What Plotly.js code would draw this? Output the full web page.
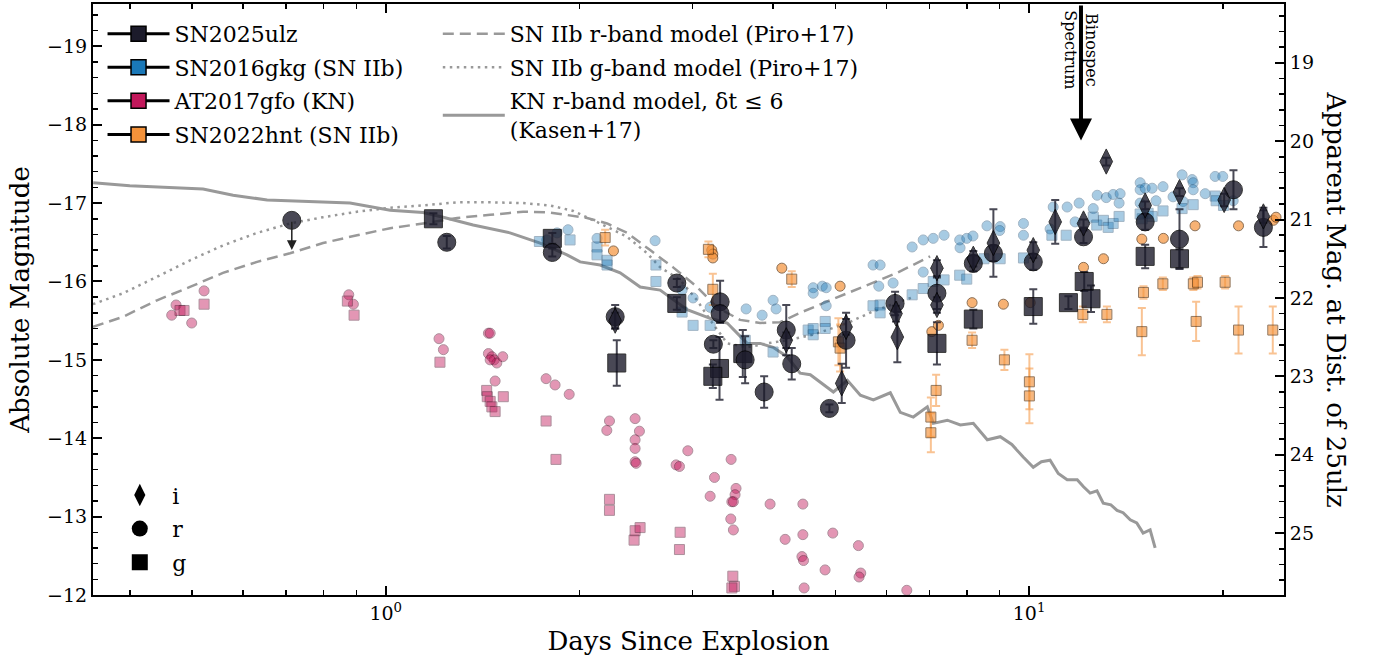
<!DOCTYPE html>
<html><head><meta charset="utf-8">
<script src="https://cdn.plot.ly/plotly-3.0.1.min.js"></script>
<style>html,body{margin:0;padding:0;background:#fff}#chart{width:1377px;height:656px}</style>
</head><body><div id="chart"></div>
<script>
// ---------------- data ----------------
// Models
const knDays = [0.351,0.400,0.520,0.579,0.654,0.710,0.880,1.016,1.143,1.228,1.367,1.560,1.738,1.913,2.005,2.154,2.314,2.486,2.670,2.941,3.193,3.394,3.518,3.646,3.819,4.000,4.206,4.406,4.570,4.858,4.963,5.218,5.466,5.727,6.085,6.306,6.607,6.947,7.098,7.463,7.818,8.190,8.610,9.020,9.400,9.790,10.15,10.45,10.78,11.10,11.46,11.88,12.15,12.44,12.75,13.04,13.40,13.70,14.00,14.36,14.70,15.04,15.42,15.70];
const knMag  = [-17.26,-17.22,-17.18,-17.10,-17.04,-17.03,-17.00,-16.91,-16.88,-16.82,-16.72,-16.62,-16.49,-16.34,-16.25,-16.21,-16.11,-15.93,-15.89,-15.64,-15.53,-15.47,-15.34,-15.21,-15.21,-15.16,-15.04,-14.83,-14.81,-14.65,-14.59,-14.74,-14.55,-14.49,-14.58,-14.33,-14.27,-14.40,-14.19,-14.23,-14.17,-14.19,-13.98,-14.02,-13.92,-13.76,-13.63,-13.70,-13.72,-13.55,-13.47,-13.47,-13.38,-13.30,-13.33,-13.17,-13.15,-13.08,-13.05,-12.96,-12.92,-12.79,-12.83,-12.60];

const piroRDays = [0.3507,0.3906,0.441,0.4963,0.5584,0.631,0.710,0.799,0.9024,1.016,1.143,1.291,1.453,1.635,1.80,2.056,2.208,2.372,2.576,2.797,3.047,3.273,3.554,3.818,4.101,4.406,4.906,5.521,6.234,7.017];
const piroRMag  = [-15.42,-15.55,-15.76,-15.93,-16.11,-16.25,-16.36,-16.49,-16.59,-16.68,-16.74,-16.81,-16.85,-16.89,-16.88,-16.81,-16.74,-16.62,-16.40,-16.18,-15.93,-15.67,-15.51,-15.47,-15.48,-15.60,-15.76,-15.93,-16.11,-16.32];

const piroGDays = [0.3507,0.3906,0.441,0.4963,0.5584,0.631,0.710,0.799,0.9024,1.016,1.143,1.291,1.453,1.635,1.80,1.956,2.154,2.372,2.548,2.670,2.868,3.047,3.193,3.309,3.394,3.646,3.915,4.206,4.616,5.218,5.727,6.19,6.65];
const piroGMag  = [-15.71,-15.85,-16.06,-16.27,-16.46,-16.62,-16.74,-16.82,-16.89,-16.94,-16.97,-17.01,-17.01,-17.00,-16.97,-16.90,-16.74,-16.57,-16.36,-16.18,-16.02,-15.76,-15.51,-15.34,-15.21,-15.16,-15.21,-15.25,-15.32,-15.47,-15.62,-15.72,-15.81];

// SN2025ulz
const ulzGDays = [1.186,1.815,2.286,2.834,3.302,3.224,3.589,7.19,8.19,10.15,11.51,12.18,12.48,15.15,17.13];
const ulzGMag  = [-16.80,-16.55,-14.96,-15.72,-14.89,-14.79,-15.08,-15.21,-15.52,-15.68,-15.73,-16.00,-15.78,-16.32,-16.29];
const ulzGErr  = [0.07,0.07,0.29,0.08,0.40,0.15,0.30,0.27,0.12,0.22,0.08,0.12,0.17,0.15,0.12];

const ulzRDays = [1.244,1.815,2.273,2.834,3.309,3.309,3.23,3.619,3.874,4.193,4.276,4.893,5.194,6.19,7.19,8.19,8.80,10.15,12.15,15.15,17.13,20.78,23.13];
const ulzRMag  = [-16.50,-16.37,-15.55,-15.98,-15.74,-15.59,-15.20,-15.00,-14.59,-15.38,-14.95,-14.38,-15.25,-15.72,-15.85,-16.23,-16.36,-16.25,-16.57,-16.76,-16.54,-17.17,-16.69];
const ulzRErr  = [0.08,0.05,0.15,0.05,0.27,0.10,0.05,0.30,0.20,0.32,0.20,0.05,0.35,0.15,0.20,0.10,0.10,0.10,0.08,0.10,0.38,0.25,0.25];

const ulzIDays = [2.273,4.193,5.114,5.194,6.21,6.24,7.19,7.19,8.19,8.80,10.15,10.98,12.15,13.18,15.15,17.13,20.10,23.13];
const ulzIMag  = [-15.50,-15.25,-14.70,-15.42,-15.59,-15.29,-16.17,-15.70,-16.29,-16.49,-16.40,-16.76,-16.74,-17.53,-16.97,-17.14,-17.04,-16.83];
const ulzIErr  = [0.10,0.10,0.25,0.10,0.10,0.32,0.10,0.10,0.10,0.43,0.10,0.28,0.05,0.05,0.05,0.05,0.08,0.08];

const ulzLimDay = 0.7144, ulzLimMag = -16.78, ulzLimTip = -16.40;

// SN2016gkg
const gkgRDays = [1.779,1.846,1.920,2.130,2.622,2.888,3.004,3.193,3.632,3.846,4.000,4.043,4.617,4.617,4.77,4.837,4.837,5.721,5.867,5.839,6.146,6.58,6.845,6.845,7.095,7.376,7.81,7.80,8.0,8.18,8.60,9.015,9.0,9.80,9.80,10.78,10.90,11.46,11.79,11.96,12.58,12.76,13.18,13.51,13.85,13.80,14.88,14.88,15.15,15.53,16.15,15.75,14.88,16.74,17.29,17.35,17.92,17.99,17.99,18.78,19.46,20.0,20.76];
const gkgRMag  = [-16.53,-16.62,-16.66,-16.55,-16.52,-15.89,-15.79,-15.67,-15.65,-15.57,-15.76,-15.65,-15.92,-15.85,-15.94,-15.92,-15.69,-16.21,-16.21,-15.94,-15.98,-16.44,-16.53,-16.12,-16.55,-16.59,-16.43,-16.53,-16.55,-16.58,-16.71,-16.70,-16.65,-16.74,-16.59,-16.67,-16.95,-16.95,-16.76,-17.00,-16.93,-17.10,-17.07,-17.11,-17.12,-17.00,-17.26,-17.17,-17.19,-17.19,-17.21,-17.03,-17.00,-17.08,-17.36,-17.02,-17.30,-17.26,-17.17,-17.12,-17.34,-17.34,-17.03];

const gkgGDays = [1.733,1.934,2.130,2.130,2.208,2.208,2.630,2.630,2.888,3.004,3.193,3.620,4.000,4.535,4.617,4.617,4.820,4.820,5.720,5.867,5.867,6.580,6.845,7.095,7.376,7.800,8.000,8.510,9.015,9.800,10.85,11.42,12.58,12.74,13.05,13.27,13.51,13.80,14.88,14.99,15.31,15.53,16.15,17.29,17.99,19.46,19.53,20.05];
const gkgGMag  = [-16.51,-16.53,-16.44,-16.34,-16.27,-16.21,-16.21,-16.00,-15.61,-15.44,-15.44,-15.25,-15.10,-15.38,-15.40,-15.32,-15.49,-15.40,-15.69,-15.70,-15.60,-15.83,-15.91,-16.00,-16.02,-16.08,-16.03,-16.29,-16.29,-16.30,-16.59,-16.59,-16.82,-16.72,-16.78,-16.69,-16.74,-16.83,-16.86,-16.80,-16.87,-16.83,-16.90,-16.93,-16.98,-17.09,-17.03,-16.97];

// AT2017gfo
const gfoRDays = [0.4721,0.4648,0.4993,0.5219,0.876,0.8905,1.210,1.229,1.444,1.453,1.444,1.462,1.474,1.488,1.520,1.453,1.479,1.775,1.833,1.928,2.227,2.206,2.441,2.479,2.441,2.441,2.441,2.45,2.827,2.861,2.948,3.442,3.243,3.193,3.503,3.491,3.451,3.47,3.438,3.47,3.957,4.45,4.176,4.45,4.953,4.435,4.46,4.818,5.428,5.474,5.441,4.47,6.455];
const gfoRMag  = [-15.70,-15.57,-15.47,-15.88,-15.83,-15.71,-15.27,-15.13,-15.34,-15.34,-15.08,-15.04,-15.00,-14.96,-15.04,-15.00,-14.73,-14.76,-14.68,-14.56,-14.22,-14.10,-14.25,-14.09,-13.98,-13.87,-13.70,-13.68,-13.66,-13.64,-13.84,-13.73,-13.50,-13.26,-13.36,-13.28,-13.19,-13.19,-12.97,-12.83,-13.16,-13.16,-12.71,-12.77,-12.79,-12.49,-12.44,-12.32,-12.63,-12.28,-12.23,-12.09,-12.06];

const gfoGDays = [0.4788,0.4858,0.5219,0.8716,0.8928,1.214,1.435,1.438,1.453,1.462,1.479,1.523,1.775,1.839,2.227,2.227,2.441,2.485,2.432,2.868,2.861,3.463,3.483,3.451];
const gfoGMag  = [-15.63,-15.63,-15.71,-15.75,-15.57,-14.97,-14.61,-14.53,-14.47,-14.40,-14.34,-14.53,-14.22,-13.73,-13.22,-13.08,-12.82,-12.86,-12.70,-12.80,-12.58,-12.24,-12.11,-12.09];

// SN2022hnt
const hntRDays = [2.259,3.212,3.224,3.224,4.127,5.084,7.06,7.228,8.154,9.12,10.04,12.15,13.05,14.97,16.17,18.11,21.16,23.97,24.2];
const hntRMag  = [-16.39,-16.40,-16.35,-16.30,-16.17,-15.94,-15.36,-15.44,-15.73,-15.71,-15.73,-16.18,-16.29,-16.54,-16.55,-16.71,-16.71,-16.78,-16.82];

const hntGDays = [2.193,3.173,3.224,4.276,5.053,5.084,7.169,7.035,7.035,8.154,9.154,10.01,10.01,12.12,13.21,14.97,15.06,16.14,18.00,18.27,18.18,20.17,21.16,23.92];
const hntGMag  = [-16.56,-16.41,-15.90,-16.03,-15.23,-15.15,-14.61,-14.27,-14.07,-15.25,-15.00,-14.72,-14.54,-15.58,-15.58,-15.36,-15.86,-15.97,-15.97,-15.99,-15.49,-15.99,-15.38,-15.38];
const hntGErr  = [0.10,0.10,0.20,0.10,0.30,0.30,0.20,0.25,0.25,0.10,0.13,0.35,0.35,0.10,0.10,0.30,0.08,0.08,0.08,0.08,0.25,0.08,0.30,0.30];

// Annotation values
const binoDay = 12.04, binoTip = -17.80;
const distMod = 37.79;
const yBottom = -12, yTop = -19.54;

// ---------------- styling ----------------
const FONT = 'DejaVu Serif';
const cUlz = '#1c1b2b', cGkg = '#1a78b8', cGfo = '#c2185b', cHnt = '#f4923a';

function pts(x, y, sym, color, size, opac, lineColor, err, errColor){
  const t = {x:x, y:y, type:'scatter', mode:'markers', showlegend:false, hoverinfo:'skip',
    marker:{symbol:sym, color:color, size:size, opacity:opac, line:{color:lineColor, width:1}}};
  if (err) t.error_y = {type:'data', array:err, visible:true, color:errColor, thickness:2, width:4};
  return t;
}

const traces = [];
// models
traces.push({x:piroRDays, y:piroRMag, type:'scatter', mode:'lines', name:'SN IIb r-band model (Piro+17)',
  line:{color:'#999999', width:2.5, dash:'11px,6px'}, legend:'legend2', legendgroup:'m1', hoverinfo:'skip'});
traces.push({x:piroGDays, y:piroGMag, type:'scatter', mode:'lines', name:'SN IIb g-band model (Piro+17)',
  line:{color:'#999999', width:2.5, dash:'2.5px,4.5px'}, legend:'legend2', legendgroup:'m2', hoverinfo:'skip'});
traces.push({x:knDays, y:knMag, type:'scatter', mode:'lines', name:'KN r-band model, δt ≤ 6<br>(Kasen+17)',
  line:{color:'#999999', width:3}, legend:'legend2', legendgroup:'m3', hoverinfo:'skip'});

// comparison objects
traces.push(pts(gfoRDays, gfoRMag, 'circle', cGfo, 10, 0.45, '#4a0a25'));
traces.push(pts(gfoGDays, gfoGMag, 'square', cGfo, 10, 0.45, '#4a0a25'));
traces.push(pts(gkgRDays, gkgRMag, 'circle', cGkg, 10, 0.38, '#0b3d66'));
traces.push(pts(gkgGDays, gkgGMag, 'square', cGkg, 10, 0.38, '#0b3d66'));
traces.push(pts(hntRDays, hntRMag, 'circle', cHnt, 10, 0.7, '#5a3410'));
traces.push(pts(hntGDays, hntGMag, 'square', cHnt, 10, 0.65, '#5a3410', hntGErr, 'rgba(244,146,58,0.55)'));

// SN2025ulz
traces.push(pts(ulzGDays, ulzGMag, 'square', cUlz, 18, 0.8, '#000000', ulzGErr, 'rgba(28,27,43,0.8)'));
traces.push(pts(ulzRDays, ulzRMag, 'circle', cUlz, 18, 0.8, '#000000', ulzRErr, 'rgba(28,27,43,0.8)'));
traces.push(pts(ulzIDays, ulzIMag, 'diamond-tall', cUlz, 18, 0.8, '#000000', ulzIErr, 'rgba(28,27,43,0.8)'));
traces.push(pts([ulzLimDay], [ulzLimMag], 'circle', cUlz, 18, 0.8, '#000000'));

// legend entries (objects)
const objNames = ['SN2025ulz','SN2016gkg (SN IIb)','AT2017gfo (KN)','SN2022hnt (SN IIb)'];
const objColors = [cUlz, cGkg, cGfo, cHnt];
objNames.forEach((n,i)=>{
  traces.push({x:[null], y:[null], type:'scatter', mode:'lines+markers', name:n, legend:'legend', legendgroup:'o'+i,
    line:{color:'black', width:3}, marker:{symbol:'square', size:15, color:objColors[i], line:{color:'black', width:1.5}}});
});
// legend entries (bands)
const bandNames = ['i','r','g'];
const bandSyms = ['diamond-tall','circle','square'];
bandNames.forEach((n,i)=>{
  traces.push({x:[null], y:[null], type:'scatter', mode:'markers', name:n, legend:'legend3', legendgroup:'b'+i,
    marker:{symbol:bandSyms[i], size:16, color:'black'}});
});
// dummy for right axis
traces.push({x:[null], y:[null], yaxis:'y2', type:'scatter', mode:'markers', showlegend:false, hoverinfo:'skip'});

const axisCommon = {showgrid:false, zeroline:false, showline:true, linecolor:'black', linewidth:2,
  ticks:'inside', ticklen:9, tickwidth:2, tickcolor:'black', tickfont:{family:FONT, size:19, color:'black'}};

const legendCommon = {bgcolor:'rgba(0,0,0,0)', font:{family:FONT, size:22, color:'black'}, tracegroupgap:2,
  xanchor:'left', itemwidth:62};

const layout = {
  width:1377, height:656,
  margin:{l:93, r:93, t:4, b:61},
  paper_bgcolor:'white', plot_bgcolor:'white',
  font:{family:FONT, color:'black'},
  xaxis: Object.assign({}, axisCommon, {
    type:'log', range:[Math.log10(0.3507), Math.log10(24.9)],
    tickvals:[1,10], ticktext:['10<sup>0</sup>','10<sup>1</sup>'], mirror:'ticks',
    minor:{dtick:'D1', ticks:'inside', ticklen:5, tickwidth:1.5, tickcolor:'black'},
    title:{text:'Days Since Explosion', font:{family:FONT, size:26}, standoff:10}
  }),
  yaxis: Object.assign({}, axisCommon, {
    range:[yBottom, yTop], tickvals:[-19,-18,-17,-16,-15,-14,-13,-12],
    minor:{dtick:0.2, tick0:0, ticks:'inside', ticklen:5, tickwidth:1.5, tickcolor:'black'},
    title:{text:'Absolute Magnitude', font:{family:FONT, size:26}, standoff:10}
  }),
  yaxis2: Object.assign({}, axisCommon, {
    overlaying:'y', side:'right', range:[yBottom+distMod, yTop+distMod], dtick:1, tick0:0,
    minor:{dtick:0.2, tick0:0, ticks:'inside', ticklen:5, tickwidth:1.5, tickcolor:'black'}
  }),
  legend: Object.assign({}, legendCommon, {x:0.008, y:0.985, yanchor:'top'}),
  legend2: Object.assign({}, legendCommon, {x:0.2895, y:0.985, yanchor:'top'}),
  legend3: Object.assign({}, legendCommon, {x:0.012, y:0.02, yanchor:'bottom', itemwidth:55}),
  annotations:[
    {x:Math.log10(binoDay), y:binoTip, ax:Math.log10(binoDay), ay:yTop, xref:'x', yref:'y', axref:'x', ayref:'y',
     text:'', showarrow:true, arrowhead:2, arrowsize:1.1, arrowwidth:4, arrowcolor:'black', standoff:0},
    {x:Math.log10(binoDay), y:-18.95, xref:'x', yref:'y', text:'Binospec<br>Spectrum', textangle:90,
     showarrow:false, font:{family:FONT, size:16, color:'black'}, xanchor:'center', yanchor:'middle'},
    {x:Math.log10(ulzLimDay), y:ulzLimTip, ax:Math.log10(ulzLimDay), ay:ulzLimMag, xref:'x', yref:'y', axref:'x', ayref:'y',
     text:'', showarrow:true, arrowhead:2, arrowsize:1.3, arrowwidth:1.5, arrowcolor:'#222', standoff:0},
    {x:1, y:0.5, xref:'paper', yref:'paper', xshift:52, text:'Apparent Mag. at Dist. of 25ulz', textangle:90,
     showarrow:false, font:{family:FONT, size:26, color:'black'}, xanchor:'center', yanchor:'middle'}
  ]
};

Plotly.newPlot('chart', traces, layout, {displayModeBar:false, staticPlot:true});
</script></body></html>
